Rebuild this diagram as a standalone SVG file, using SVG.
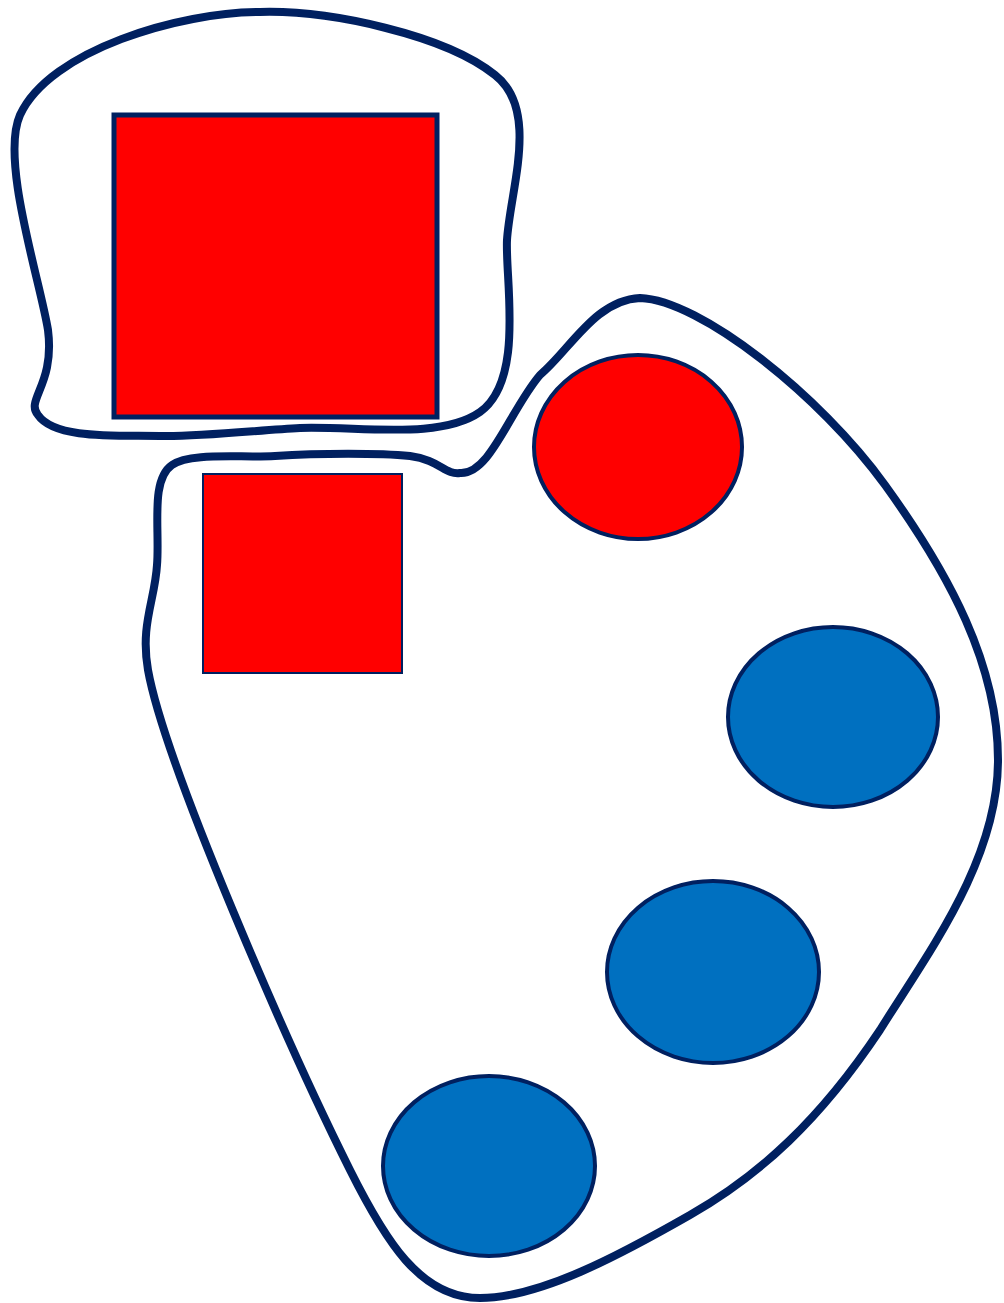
<svg xmlns="http://www.w3.org/2000/svg" width="1004" height="1303" viewBox="0 0 1004 1303">
<style>
.blob{fill:none;stroke:#002060;stroke-width:8;stroke-linejoin:round}
.red{fill:#FF0000;stroke:#002060}
.blue{fill:#0070C0;stroke:#002060;stroke-width:4}
</style>
<rect width="1004" height="1303" fill="#ffffff"/>
<g id="connectors"></g>
<g id="blob-top">
<path class="blob" d="M 260 12 C 180 12, 50 50, 20 115 C 0 160, 40 280, 48 330 C 55 385, 25 400, 38 415 C 55 440, 120 435, 160 436 C 200 437, 260 430, 300 428 C 360 426, 440 440, 480 412 C 525 380, 505 280, 507 240 C 510 190, 540 110, 495 75 C 445 35, 330 10, 260 12 Z"/>
</g>
<g id="blob-bottom">
<path class="blob" d="M 460 473 C 490 475, 510 410, 540 375 C 570 350, 595 300, 640 298 C 700 300, 820 395, 885 485 C 950 575, 998 665, 998 760 C 998 860, 930 950, 880 1030 C 820 1120, 760 1175, 690 1215 C 620 1255, 540 1298, 480 1298 C 420 1298, 385 1240, 350 1170 C 290 1050, 165 765, 148 670 C 140 625, 155 600, 157 565 C 160 530, 150 480, 172 465 C 190 452, 240 458, 275 456 C 320 453, 380 453, 410 456 C 440 460, 445 475, 460 473 Z"/>
</g>
<g id="square-large"><rect class="red" x="114" y="115" width="323" height="302" stroke-width="5"/></g>
<g id="square-small"><rect class="red" x="203" y="474" width="199" height="199" stroke-width="2"/></g>
<g id="circle-red"><ellipse class="red" cx="638" cy="447" rx="104" ry="92" stroke-width="4"/></g>
<g id="circle-blue-1"><ellipse class="blue" cx="833" cy="717" rx="105" ry="90"/></g>
<g id="circle-blue-2"><ellipse class="blue" cx="713" cy="972" rx="106" ry="91"/></g>
<g id="circle-blue-3"><ellipse class="blue" cx="489" cy="1166" rx="106" ry="90"/></g>
</svg>
